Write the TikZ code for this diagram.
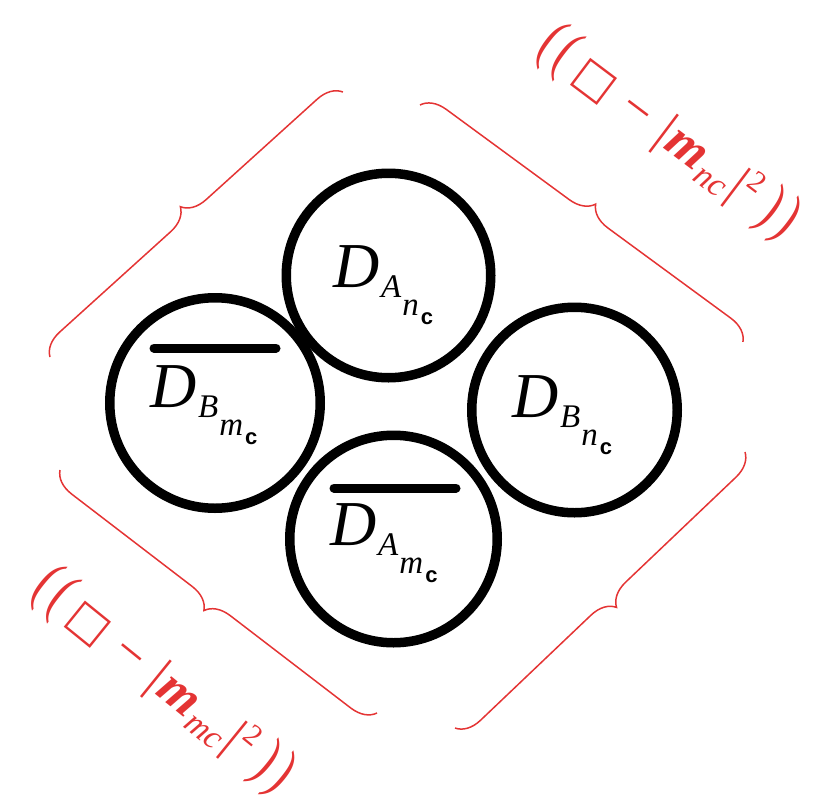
\documentclass[tikz,border=0pt]{standalone}
\usepackage{graphicx}
\usepackage{fontspec}
\setmainfont{Liberation Serif}
\setsansfont{Liberation Sans}
\newfontfamily\symfont{DejaVu Sans}
\usetikzlibrary{decorations.pathreplacing}
\definecolor{bred}{RGB}{228,52,52}
\newcommand{\dlab}[2]{\fontsize{64}{64}\selectfont\textit{D}\kern2pt\raisebox{-10pt}{\fontsize{33}{33}\selectfont\textit{#1}\kern1pt\raisebox{-18pt}{\textit{#2}\kern2pt\raisebox{-9pt}{\fontsize{22}{22}\selectfont\sffamily\bfseries c}}}}
\newcommand{\rparen}[1]{\scalebox{0.85}[1.2]{#1}}
\newcommand{\redlab}[1]{\fontsize{52}{52}\selectfont\rparen{(}\kern5pt\rparen{(}\kern10pt{\symfont\fontsize{44}{44}\selectfont □}\kern16pt−\kern16pt|\kern2pt\textbf{\textit{m}}\kern2pt\raisebox{-8pt}{\fontsize{34}{34}\selectfont\textit{#1}}\kern3pt|\kern1pt\raisebox{20pt}{\fontsize{30}{30}\selectfont 2}\kern12pt\rparen{)}\kern5pt\rparen{)}}
\begin{document}
\begin{tikzpicture}[x=1pt,y=-1pt,
  circ/.style={circle,draw=black,line width=9.5pt,inner sep=0pt},
  lab/.style={anchor=base west,inner sep=0pt,outer sep=0pt},
  barline/.style={line width=9pt,line cap=round},
  bracestyle/.style={draw=bred,line width=1.5pt,decorate,decoration={brace,amplitude=24pt,aspect=0.5}},
  redtext/.style={text=bred,inner sep=0pt}]
\useasboundingbox (0,0) rectangle (835,809);
% circles
\node[circ,minimum size=204.5pt] (top) at (388.5,275.5) {};
\node[circ,minimum size=210.5pt] (left) at (215,403) {};
\node[circ,minimum size=205.5pt] (right) at (574.5,410) {};
\node[circ,minimum size=207.5pt] (bottom) at (393.5,539) {};
% labels
\node[lab] (ltop) at (333,287) {\dlab{A}{n}};
\node[lab] (lleft) at (150,407) {\dlab{B}{m}};
\node[lab] (lright) at (512,417) {\dlab{B}{n}};
\node[lab] (lbottom) at (330,545) {\dlab{A}{m}};
% bars
\draw[barline] (154,348) -- (276,348);
\draw[barline] (334,488) -- (456,488);
% braces
\coordinate (tl1) at (50,357);
\coordinate (tl2) at (343,92);
\coordinate (tr1) at (420,105);
\coordinate (tr2) at (743,342);
\coordinate (br1) at (745,452);
\coordinate (br2) at (455,728);
\coordinate (bl1) at (377,713);
\coordinate (bl2) at (60,470);
\draw[bracestyle] (tl1) -- (tl2);
\draw[bracestyle] (tr1) -- (tr2);
\draw[bracestyle] (br1) -- (br2);
\draw[bracestyle] (bl1) -- (bl2);
% red labels
\node[redtext,rotate=-37] (rtr) at (668,133) {\redlab{nc}};
\node[redtext,rotate=-39] (rbl) at (163,681) {\redlab{mc}};
\end{tikzpicture}
\end{document}
